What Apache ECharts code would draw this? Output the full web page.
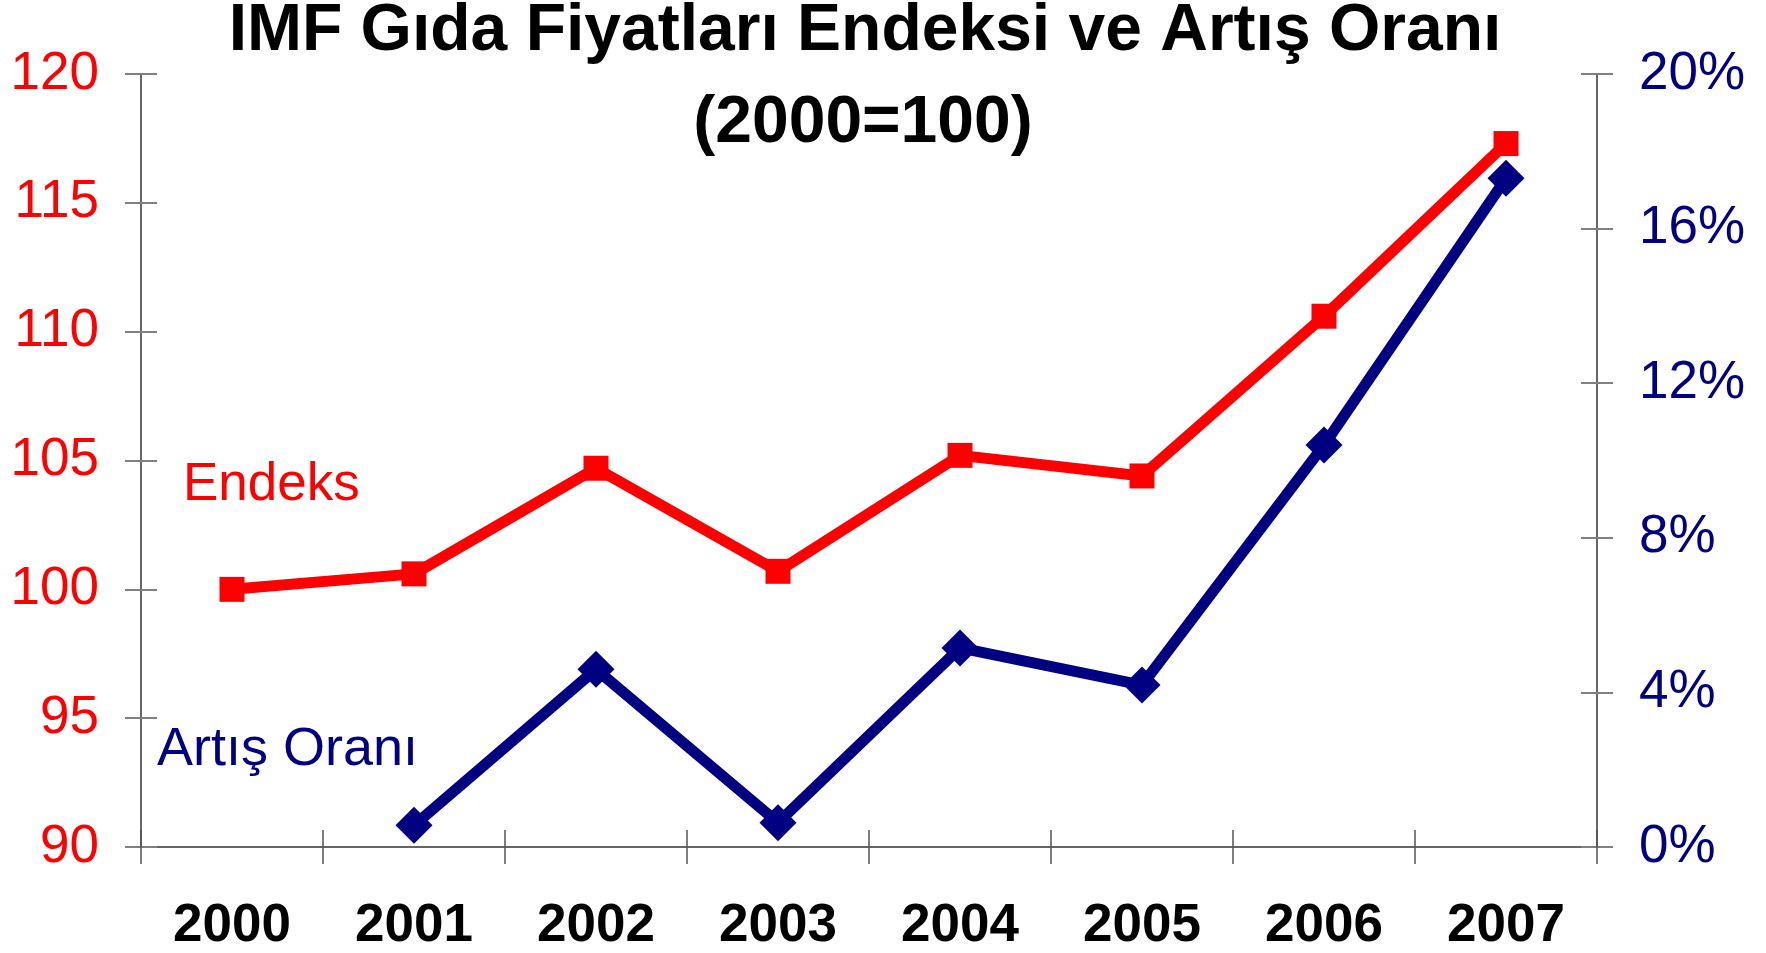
<!DOCTYPE html>
<html><head><meta charset="utf-8">
<script src="https://cdn.jsdelivr.net/npm/echarts@6/dist/echarts.min.js"></script>
<style>html,body{margin:0;padding:0;background:#fff}#c{width:1766px;height:953px}</style>
</head><body><div id="c"></div>
<script>
// ---- data ----
const categories = ['2000', '2001', '2002', '2003', '2004', '2005', '2006', '2007'];
const endeksValues = [100, 100.6, 104.7, 100.7, 105.2, 104.4, 110.6, 117.3];
const artisValues = [null, 0.56, 4.6, 0.63, 5.15, 4.19, 10.4, 17.3];
const leftMin = 90, leftMax = 120, leftInterval = 5;
const rightMin = 0, rightMax = 20, rightInterval = 4;
const titleLine1 = 'IMF Gıda Fiyatları Endeksi ve Artış Oranı';
const titleLine2 = '(2000=100)';
const seriesNames = ['Endeks', 'Artış Oranı'];

// ---- styles ----
const FONT = '"Liberation Sans", Arial, sans-serif';
const RED = '#FF0000', NAVY = '#000080';
const AXIS_LINE = { show: true, lineStyle: { color: '#333333', width: 1.5 } };
const TICK_STYLE = { color: '#808080', width: 2 };

function yAxisPair(position, min, max, interval, color, formatter) {
  return [
    {
      type: 'value', position: position, min: min, max: max, interval: interval,
      axisLine: AXIS_LINE,
      axisTick: { show: true, inside: false, length: 16, lineStyle: TICK_STYLE },
      axisLabel: { show: true, color: color, fontSize: 53, fontFamily: FONT, margin: 42, formatter: formatter },
      splitLine: { show: false }
    },
    {
      type: 'value', position: position, min: min, max: max, interval: interval,
      axisLine: { show: false },
      axisTick: { show: true, inside: true, length: 16, lineStyle: TICK_STYLE },
      axisLabel: { show: false },
      splitLine: { show: false }
    }
  ];
}

const chart = echarts.init(document.getElementById('c'), null, { renderer: 'canvas' });
chart.setOption({
  animation: false,
  backgroundColor: '#ffffff',
  grid: { left: 141, right: 169, top: 74, bottom: 106 },
  xAxis: [
    {
      type: 'category', data: categories, position: 'bottom', boundaryGap: true,
      axisLine: AXIS_LINE,
      axisTick: { show: true, inside: false, length: 17, interval: 0, lineStyle: { color: '#555555', width: 1.5 } },
      axisLabel: { color: '#000', fontSize: 53, fontWeight: 'bold', fontFamily: FONT, margin: 53, lineHeight: 53, interval: 0 },
      splitLine: { show: false }
    },
    {
      type: 'category', data: categories, position: 'bottom', boundaryGap: true,
      axisLine: { show: false },
      axisTick: { show: true, inside: true, length: 17, interval: 0, lineStyle: { color: '#555555', width: 1.5 } },
      axisLabel: { show: false },
      splitLine: { show: false }
    }
  ],
  yAxis: [].concat(
    yAxisPair('left', leftMin, leftMax, leftInterval, RED, '{value}'),
    yAxisPair('right', rightMin, rightMax, rightInterval, NAVY, '{value}%')
  ),
  series: [
    {
      name: seriesNames[0], type: 'line', data: endeksValues, xAxisIndex: 0, yAxisIndex: 0,
      lineStyle: { color: RED, width: 11 }, itemStyle: { color: RED },
      symbol: 'rect', symbolSize: 25, showAllSymbol: true, z: 3
    },
    {
      name: seriesNames[1], type: 'line', data: artisValues, xAxisIndex: 0, yAxisIndex: 2,
      lineStyle: { color: NAVY, width: 11 }, itemStyle: { color: NAVY },
      symbol: 'diamond', symbolSize: 37, showAllSymbol: true, connectNulls: false, z: 4
    }
  ],
  graphic: [
    { type: 'text', x: 865, y: 32, style: { text: titleLine1, font: 'bold 66px ' + FONT, fill: '#000', align: 'center', verticalAlign: 'middle', textAlign: 'center', textVerticalAlign: 'middle' } },
    { type: 'text', x: 863, y: 124, style: { text: titleLine2, font: 'bold 66px ' + FONT, fill: '#000', align: 'center', verticalAlign: 'middle', textAlign: 'center', textVerticalAlign: 'middle' } },
    { type: 'text', x: 183, y: 485, style: { text: seriesNames[0], font: '53px ' + FONT, fill: RED, align: 'left', verticalAlign: 'middle', textAlign: 'left', textVerticalAlign: 'middle' } },
    { type: 'text', x: 157, y: 750, style: { text: seriesNames[1], font: '54px ' + FONT, fill: NAVY, align: 'left', verticalAlign: 'middle', textAlign: 'left', textVerticalAlign: 'middle' } }
  ]
});
</script>
</body></html>
